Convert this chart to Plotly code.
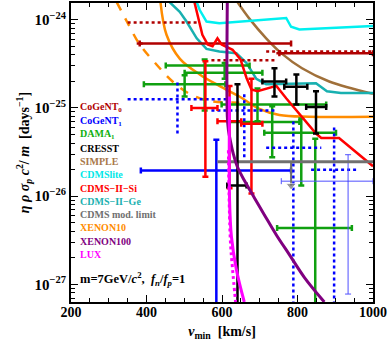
import numpy as np
import plotly.graph_objects as go

# ---- data (v_min in km/s, eta values as log10) ----
xenon10_v = [437, 453, 488, 541, 593, 646, 699, 752, 831, 1000]
xenon10_l = [-23.80, -24.17, -24.44, -24.62, -24.75, -24.87, -25.01, -25.08, -25.10, -25.10]
xenon10d_v = [321, 348, 382, 427, 469, 514, 567, 646]
xenon10d_l = [-23.80, -24.02, -24.28, -24.51, -24.70, -24.84, -24.92, -24.94]
lite_v = [533, 541, 559, 593, 770, 783, 805, 1000]
lite_l = [-23.80, -23.89, -24.02, -24.04, -23.98, -24.08, -24.11, -24.07]
ge_v = [461, 488, 506, 533, 559, 593, 638, 665, 691, 717, 849, 878, 915, 1000]
ge_l = [-23.80, -23.91, -24.02, -24.21, -24.33, -24.36, -24.38, -24.49, -24.67, -24.73, -24.72, -24.81, -24.83, -24.83]
si_v = [527, 548, 562, 575, 588, 599, 628, 649, 665, 678, 694, 744, 770, 805, 849, 863, 910, 1000]
si_l = [-23.80, -24.17, -24.28, -24.30, -24.21, -24.28, -24.34, -24.45, -24.66, -24.79, -24.81, -24.75, -24.89, -25.07, -25.29, -25.34, -25.34, -25.66]
simple_v = [641, 673, 717, 760, 812, 884, 1000]
simple_l = [-23.80, -23.99, -24.21, -24.39, -24.55, -24.70, -24.84]
x100_v = [614, 614, 617, 622, 630, 641, 659, 686, 712, 744, 778, 818, 871]
x100_l = [-23.80, -25.09, -25.25, -25.37, -25.52, -25.67, -25.82, -26.02, -26.21, -26.44, -26.66, -26.92, -27.20]
lux_v = [620, 620, 625, 638, 659]
lux_l = [-24.87, -26.04, -26.46, -26.83, -27.20]
luxd_v = [617, 622, 628, 636]
luxd_l = [-25.48, -26.49, -26.83, -27.20]
modlim_v = [588, 1000]
modlim_l = [-25.61, -25.61]
arrow_v = 783
arrow_l = [-25.61, -25.88]

# error-bar data: centre, low, high
dama_v = [501, 607, 554, 694, 733, 810, 847]
dama_vlo = [393, 501, 451, 599, 620, 712, 746]
dama_vhi = [609, 707, 673, 876, 805, 902, 944]
dama_l = [-24.73, -24.60, -24.52, -24.96, -25.16, -25.28, -26.36]
dama_llo = [-24.87, -24.67, -25.03, -25.15, -25.56, -25.88, -27.5]
dama_lhi = [-24.63, -24.49, -24.45, -24.78, -24.98, -25.12, -25.35]

si_bar_v = [556, 620, 678]
si_bar_vlo = [519, 588, 651]
si_bar_vhi = [588, 651, 707]
si_bar_l = [-25.00, -25.15, -25.18]
si_bar_llo = [-25.78, -25.91, -25.97]
si_bar_lhi = [-24.47, -24.75, -24.67]

cresst_v = [739, 797, 849, 641]
cresst_vlo = [707, 765, 823, 614]
cresst_vhi = [770, 826, 876, 665]
cresst_l = [-24.70, -24.76, -24.99, -25.88]
cresst_llo = [-24.87, -24.96, -25.29, -27.5]
cresst_lhi = [-24.55, -24.62, -24.81, -24.73]

cog1_v = [585]
cog1_vlo = [385]
cog1_vhi = [783]
cog1_l = [-25.71]
cog1_llo = [-27.5]
cog1_lhi = [-25.36]

cog1d_v = [482, 659, 789, 897]
cog1d_vlo = [350, 572, 717, 836]
cog1d_vhi = [612, 746, 863, 958]
cog1d_l = [-24.90, -25.03, -25.45, -25.70]
cog1d_llo = [-25.29, -25.56, -27.5, -27.5]
cog1d_lhi = [-24.70, -24.81, -25.12, -25.20]

thin_v = [934]
thin_vlo = [757]
thin_vhi = [1000]
thin_l = [-25.83]
thin_llo = [-27.11]
thin_lhi = [-25.53]

cog0_v = [382, 752]
cog0_vhi = [783, 1000]
cog0_l = [-24.27, -24.38]
cog0d_vlo = [350, 572, 717]
cog0d_vhi = [541, 746, 1000]
cog0d_l = [-24.03, -24.46, -24.36]

legend_names = ["CoGeNT<sub>0</sub>", "CoGeNT<sub>1</sub>", "DAMA<sub>1</sub>", "CRESST", "SIMPLE",
                "CDMSlite", "CDMS−II−Si", "CDMS−II−Ge", "CDMS mod. limit", "XENON10",
                "XENON100", "LUX"]
legend_colors = ["#B00000", "#0000FF", "#10B010", "#000000", "#A8784A", "#00E8E8", "#FF0000",
                 "#20B0B0", "#707070", "#FF8C00", "#800080", "#FF00FF"]

C_COG0, C_COG1, C_DAMA, C_CRESST, C_SIMPLE, C_LITE, C_SI, C_GE, C_MOD, C_X10, C_X100, C_LUX = [
    "#B00000", "#0000FF", "#10A010", "#000000", "#A0703A", "#00F0F0", "#FF0000",
    "#18B0B0", "#707070", "#FF8C00", "#800080", "#FF00FF"]

P = lambda a: 10 ** np.array(a, dtype=float)

fig = go.Figure()


def curve(v, l, color, width=2.5, dash="solid", shape="linear"):
    fig.add_trace(go.Scatter(x=v, y=P(l), mode="lines",
                             line=dict(color=color, width=width, dash=dash, shape=shape),
                             showlegend=False, hoverinfo="skip"))


def bars(v, vlo, vhi, l, llo, lhi, color, thick=2.5, width=3):
    v = np.array(v, float); y = P(l)
    fig.add_trace(go.Scatter(
        x=v, y=y, mode="markers", marker=dict(size=1, color=color), showlegend=False, hoverinfo="skip",
        error_x=dict(type="data", symmetric=False, array=np.array(vhi) - v, arrayminus=v - np.array(vlo),
                     color=color, thickness=thick, width=width),
        error_y=dict(type="data", symmetric=False, array=P(lhi) - y, arrayminus=y - P(llo),
                     color=color, thickness=thick, width=width)))


def dotted_bars(v, vlo, vhi, l, llo, lhi, color, dash="dot", width=2.5):
    xs, ys = [], []
    for i in range(len(v)):
        xs += [vlo[i], vhi[i], None, v[i], v[i], None]
        ys += [10 ** l[i], 10 ** l[i], None, 10 ** llo[i], 10 ** lhi[i], None]
    fig.add_trace(go.Scatter(x=xs, y=ys, mode="lines", line=dict(color=color, width=width, dash=dash),
                             showlegend=False, hoverinfo="skip"))


curve(simple_v, simple_l, C_SIMPLE, shape="spline")
curve(lite_v, lite_l, C_LITE)
curve(ge_v, ge_l, C_GE)
curve(xenon10_v, xenon10_l, C_X10, shape="spline")
curve(xenon10d_v, xenon10d_l, C_X10, dash="dash", shape="spline")

# CoGeNT0
for i in range(len(cog0d_l)):
    curve([cog0d_vlo[i], cog0d_vhi[i]], [cog0d_l[i]] * 2, C_COG0, dash="dot")
bars(cog0_v, cog0_v, cog0_vhi, cog0_l, cog0_l, cog0_l, C_COG0)

bars(dama_v, dama_vlo, dama_vhi, dama_l, dama_llo, dama_lhi, C_DAMA)
dotted_bars(cog1d_v, cog1d_vlo, cog1d_vhi, cog1d_l, cog1d_llo, cog1d_lhi, C_COG1)
bars(cog1_v, cog1_vlo, cog1_vhi, cog1_l, cog1_llo, cog1_lhi, C_COG1)
bars(thin_v, thin_vlo, thin_vhi, thin_l, thin_llo, thin_lhi, "#5050FF", thick=1, width=3)
bars(si_bar_v, si_bar_vlo, si_bar_vhi, si_bar_l, si_bar_llo, si_bar_lhi, C_SI)
curve(si_v, si_l, C_SI)
curve(modlim_v, modlim_l, C_MOD, width=3)
fig.add_trace(go.Scatter(x=[arrow_v, arrow_v], y=P(arrow_l), mode="lines+markers",
                         line=dict(color=C_MOD, width=2),
                         marker=dict(symbol=["circle", "triangle-down"], size=[0, 9], color=C_MOD),
                         showlegend=False, hoverinfo="skip"))
bars(cresst_v, cresst_vlo, cresst_vhi, cresst_l, cresst_llo, cresst_lhi, C_CRESST)
curve(x100_v, x100_l, C_X100, width=3, shape="spline")
curve(luxd_v, luxd_l, C_LUX, width=3, dash="dot", shape="spline")
curve(lux_v, lux_l, C_LUX, width=3, shape="spline")

SERIF = "Liberation Serif"
H_PLOT = 302.0
ann = []
leg_y = [107, 120.5, 134, 147.5, 161, 174.5, 188, 201.5, 215, 228, 241.5, 255]
for name, col, yy in zip(legend_names, legend_colors, leg_y):
    ann.append(dict(text="<b>" + name + "</b>", x=0.023, xref="paper", xanchor="left",
                    y=(303 - yy) / H_PLOT, yref="paper", yanchor="middle", showarrow=False,
                    font=dict(family=SERIF, size=10, color=col)))
ann.append(dict(text="<b>m=7GeV/<i>c</i><sup>2</sup>,  <i>f<sub>n</sub></i>/<i>f<sub>p</sub></i>=1</b>",
                x=0.023, xref="paper", xanchor="left", y=(303 - 280) / H_PLOT, yref="paper",
                yanchor="middle", showarrow=False, font=dict(family=SERIF, size=12.5, color="black")))

minor_y = [k * 10.0 ** e for e in range(-28, -23) for k in range(2, 10)]

fig.update_layout(
    width=388, height=341,
    margin=dict(l=71, r=14, t=1, b=38),
    plot_bgcolor="white", paper_bgcolor="white",
    font=dict(family=SERIF, size=14, color="black"),
    annotations=ann,
    xaxis=dict(range=[200, 1000], tickvals=[200, 400, 600, 800, 1000],
               ticktext=["<b>200</b>", "<b>400</b>", "<b>600</b>", "<b>800</b>", "<b>1000</b>"],
               ticks="inside", ticklen=7, tickwidth=1.3, tickcolor="black", ticklabelstandoff=-4,
               minor=dict(dtick=50, tick0=0, ticks="inside", ticklen=4, tickcolor="black", showgrid=False),
               showline=True, linecolor="black", linewidth=2, mirror="allticks", showgrid=False,
               zeroline=False, tickfont=dict(size=14),
               title=dict(text="<b><i>v</i><sub>min</sub>  [km/s]</b>", standoff=10, font=dict(size=14))),
    yaxis=dict(type="log", range=[-27.20, -23.81],
               tickvals=[1e-27, 1e-26, 1e-25, 1e-24],
               ticktext=["<b>10<sup>−27</sup></b>", "<b>10<sup>−26</sup></b>", "<b>10<sup>−25</sup></b>",
                         "<b>10<sup>−24</sup></b>"],
               ticks="inside", ticklen=7, tickwidth=1.3, tickcolor="black",
               minor=dict(tickvals=minor_y, ticks="inside", ticklen=4, tickcolor="black", showgrid=False),
               showline=True, linecolor="black", linewidth=2, mirror="allticks", showgrid=False,
               zeroline=False, tickfont=dict(size=15),
               title=dict(text="<b><i>η ρ σ<sub>p</sub> c</i><sup>2</sup>/<i> m</i>  [days<sup>−1</sup>]</b>",
                          standoff=2, font=dict(size=14))),
)

fig.write_html("out.html", config={"displayModeBar": False},
               post_script="document.body.style.margin='0';")
